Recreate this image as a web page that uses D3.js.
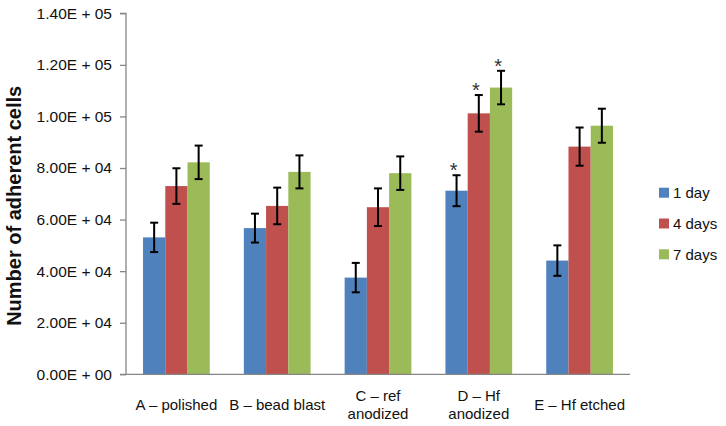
<!DOCTYPE html>
<html>
<head>
<meta charset="utf-8">
<script src="https://cdn.jsdelivr.net/npm/d3@7"></script>
<style>
  html, body { margin: 0; padding: 0; background: #fff; }
  svg { display: block; font-family: "Liberation Sans", Arial, Helvetica, sans-serif; }
</style>
</head>
<body>
<svg id="chart" width="726" height="426"></svg>
<script>
// ---- data ----
const categories = ["A", "B", "C", "D", "E"];
const categoryLabels = [["A – polished"], ["B – bead blast"], ["C – ref", "anodized"], ["D – Hf", "anodized"], ["E – Hf etched"]];
const seriesNames = ["1 day", "4 days", "7 days"];
const day1 = [53100, 56700, 37500, 71200, 44100];
const day1Err = [5700, 5600, 5700, 6000, 5900];
const day4 = [73000, 65300, 64800, 101200, 88300];
const day4Err = [6900, 7100, 7300, 7100, 7400];
const day7 = [82200, 78500, 78000, 111200, 96400];
const day7Err = [6500, 6400, 6500, 6500, 6600];
const significant = [[false, false, false, true, false], [false, false, false, true, false], [false, false, false, true, false]];
const yTicks = [0, 20000, 40000, 60000, 80000, 100000, 120000, 140000];
const yTickLabels = ["0.00E + 00", "2.00E + 04", "4.00E + 04", "6.00E + 04", "8.00E + 04", "1.00E + 05", "1.20E + 05", "1.40E + 05"];
const yTitle = "Number of adherent cells";
const colors = ["#4F81BD", "#C0504D", "#9BBB59"];

const seriesValues = [day1, day4, day7];
const seriesErrors = [day1Err, day4Err, day7Err];

// ---- layout ----
const pLeft = 126, pRight = 630, pTop = 13.3, pBottom = 374.3;
const svg = d3.select("#chart");

const x0 = d3.scaleBand().domain(categories).range([pLeft, pRight]).paddingInner(0.338).paddingOuter(0.169);
const x1 = d3.scaleBand().domain(seriesNames).range([0, x0.bandwidth()]).padding(0);
const y = d3.scaleLinear().domain([0, 140000]).range([pBottom, pTop]);

// bars
const flat = [];
seriesNames.forEach((s, si) => {
  categories.forEach((c, ci) => {
    flat.push({ s, si, c, ci, v: seriesValues[si][ci], e: seriesErrors[si][ci], sig: significant[si][ci] });
  });
});

svg.append("g").selectAll("rect").data(flat).join("rect")
  .attr("x", d => x0(d.c) + x1(d.s))
  .attr("y", d => y(d.v))
  .attr("width", x1.bandwidth())
  .attr("height", d => y(0) - y(d.v))
  .attr("fill", d => colors[d.si]);

// error bars
const eg = svg.append("g").attr("stroke", "#000").attr("stroke-width", 2).attr("fill", "none");
const cap = 4;
flat.forEach(d => {
  const cx = x0(d.c) + x1(d.s) + x1.bandwidth() / 2;
  const y1 = y(d.v + d.e), y2 = y(d.v - d.e);
  eg.append("line").attr("x1", cx).attr("x2", cx).attr("y1", y1).attr("y2", y2);
  eg.append("line").attr("x1", cx - cap).attr("x2", cx + cap).attr("y1", y1).attr("y2", y1);
  eg.append("line").attr("x1", cx - cap).attr("x2", cx + cap).attr("y1", y2).attr("y2", y2);
});

// asterisks
svg.append("g").selectAll("text").data(flat.filter(d => d.sig)).join("text")
  .attr("x", d => x0(d.c) + x1(d.s) + x1.bandwidth() / 2 - 3)
  .attr("y", d => y(d.v + d.e) + 2)
  .attr("text-anchor", "middle")
  .attr("font-size", 20)
  .attr("fill", "#333")
  .text("*");

// y axis
const yAxis = d3.axisLeft(y).tickValues(yTicks).tickSize(6).tickPadding(8)
  .tickFormat((d, i) => yTickLabels[i]);
const yg = svg.append("g").attr("transform", `translate(${pLeft},0)`).call(yAxis);
yg.select(".domain").attr("stroke", "#868686").attr("stroke-width", 1.3).attr("d", `M-6,${pTop}H0V${pBottom}H-6`);
yg.selectAll(".tick line").attr("stroke", "#868686").attr("stroke-width", 1.3);
yg.selectAll(".tick text").attr("font-size", 15.5).attr("fill", "#111").attr("font-family", "Liberation Sans, Arial, sans-serif");

// x axis line
svg.append("line").attr("x1", pLeft).attr("x2", pRight).attr("y1", pBottom).attr("y2", pBottom)
  .attr("stroke", "#868686").attr("stroke-width", 1.3);

// x category labels
const xl = svg.append("g").attr("font-size", 15).attr("fill", "#111").attr("text-anchor", "middle");
categories.forEach((c, i) => {
  const lines = categoryLabels[i];
  const cx = x0(c) + x0.bandwidth() / 2;
  const t = xl.append("text").attr("x", cx);
  if (lines.length === 1) {
    t.append("tspan").attr("x", cx).attr("y", 410).text(lines[0]);
  } else {
    lines.forEach((ln, k) => t.append("tspan").attr("x", cx).attr("y", 401 + k * 18).text(ln));
  }
});

// y title
svg.append("text")
  .attr("transform", `translate(21,${(pTop + pBottom) / 2 + 12}) rotate(-90)`)
  .attr("text-anchor", "middle")
  .attr("font-size", 20)
  .attr("font-weight", "bold")
  .attr("fill", "#111")
  .text(yTitle);

// legend
const lg = svg.append("g");
seriesNames.forEach((s, i) => {
  const cy = 192.7 + i * 30.8;
  lg.append("rect").attr("x", 659).attr("y", cy - 5).attr("width", 10).attr("height", 10).attr("fill", colors[i]);
  lg.append("text").attr("x", 673).attr("y", cy).attr("dy", "0.35em").attr("font-size", 15).attr("fill", "#111").text(s);
});
</script>
</body>
</html>
